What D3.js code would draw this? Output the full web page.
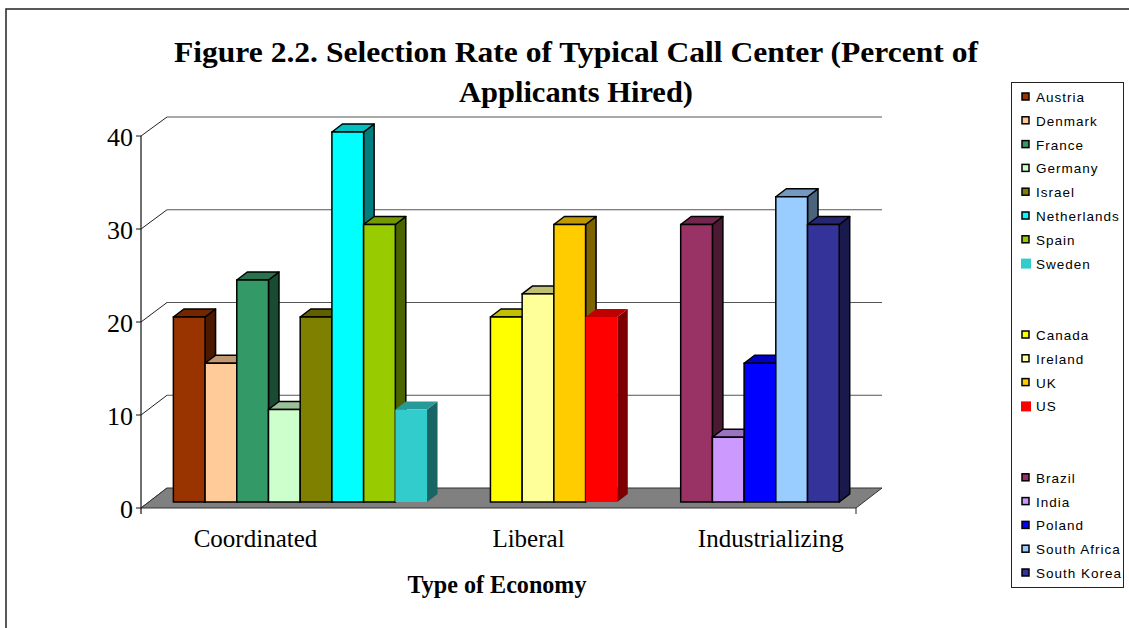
<!DOCTYPE html>
<head>
    <meta charset="utf-8">
    <title>Selection Rate</title>
    <script src="https://d3js.org/d3.v7.min.js"></script>
    <style>
        body { margin: 0; background: #fff; }
        svg { display: block; }
    </style>
</head>
<body>
<div id="container"></div>
<script>
    //-----------------------------DATA------------------------------//
    const categories = ["Coordinated", "Liberal", "Industrializing"];
    const coordinated = ["Austria", "Denmark", "France", "Germany", "Israel", "Netherlands", "Spain", "Sweden"];
    const coordinatedRates = [20, 15, 24, 10, 20, 40, 30, 10];
    const liberal = ["Canada", "Ireland", "UK", "US"];
    const liberalRates = [20, 22.5, 30, 20];
    const industrializing = ["Brazil", "India", "Poland", "South Africa", "South Korea"];
    const industrializingRates = [30, 7, 15, 33, 30];
    const yTicks = [0, 10, 20, 30, 40];

    // palette (styles kept apart from data)
    const palette = {
        "Austria": "#993300", "Denmark": "#FFCC99", "France": "#339966", "Germany": "#CCFFCC",
        "Israel": "#808000", "Netherlands": "#00FFFF", "Spain": "#99CC00", "Sweden": "#33CCCC",
        "Canada": "#FFFF00", "Ireland": "#FFFF99", "UK": "#FFCC00", "US": "#FF0000",
        "Brazil": "#993366", "India": "#CC99FF", "Poland": "#0000FF", "South Africa": "#99CCFF",
        "South Korea": "#333399"
    };
    const noBorder = ["Sweden", "US"];

    //---------------------------LAYOUT------------------------------//
    const width = 1129, height = 628;
    const groups = [
        {name: categories[0], names: coordinated, rates: coordinatedRates},
        {name: categories[1], names: liberal, rates: liberalRates},
        {name: categories[2], names: industrializing, rates: industrializingRates}
    ];
    const labelShift = [2.59, 1.2, 2.84];   // label centre, in bar steps from group start
    const gapSlots = 2;

    // slots: each bar one slot, two empty slots between groups
    const slots = [];
    const bars = [];
    groups.forEach(function(g, gi) {
        g.names.forEach(function(n, i) {
            slots.push(n);
            bars.push({group: gi, name: n, value: g.rates[i]});
        });
        if (gi < groups.length - 1) {
            for (let k = 0; k < gapSlots; k++) slots.push("gap" + gi + "_" + k);
        }
    });

    const frontLeft = 141, frontRight = 856, floorFront = 508;
    const depthX = 26, depthY = -20;      // floor depth
    const barDx = 10.5, barDy = -8;       // bar depth
    const barBase = 502;

    const x = d3.scaleBand()
        .domain(slots)
        .range([frontLeft + 7.8, frontRight + 7.8])
        .paddingInner(0)
        .paddingOuter(0.775);

    const yFront = d3.scaleLinear().domain([0, 40]).range([floorFront, 136]);
    const yBack = d3.scaleLinear().domain([0, 40]).range([floorFront + depthY, 117]);
    const yBar = d3.scaleLinear().domain([0, 40]).range([barBase, 132]);

    const svg = d3.select("#container").append("svg")
        .attr("width", width)
        .attr("height", height);

    // outer border
    svg.append("rect")
        .attr("x", 6).attr("y", 9)
        .attr("width", 1300).attr("height", 800)
        .attr("fill", "none")
        .attr("stroke", "#222")
        .attr("stroke-width", 1.5);

    //-----------------------------TITLE-----------------------------//
    const titleLines = ["Figure 2.2. Selection Rate of Typical Call Center (Percent of", "Applicants Hired)"];
    const titleLen = [804, 234];
    svg.selectAll(".title")
        .data(titleLines)
        .enter().append("text")
        .attr("class", "title")
        .attr("x", 576)
        .attr("y", function(d, i) { return 62 + i * 40; })
        .attr("text-anchor", "middle")
        .attr("textLength", function(d, i) { return titleLen[i]; })
        .attr("lengthAdjust", "spacingAndGlyphs")
        .style("font-family", "'Liberation Serif', 'Times New Roman', serif")
        .style("font-weight", "bold")
        .style("font-size", "30px")
        .text(function(d) { return d; });

    //------------------------WALLS & FLOOR--------------------------//
    const grid = svg.append("g");
    yTicks.filter(function(t) { return t > 0; }).forEach(function(t) {
        grid.append("line")
            .attr("x1", frontLeft + depthX).attr("x2", frontRight + depthX)
            .attr("y1", yBack(t)).attr("y2", yBack(t))
            .attr("stroke", "#555").attr("stroke-width", 1);
    });
    yTicks.forEach(function(t) {
        grid.append("line")
            .attr("x1", frontLeft).attr("x2", frontLeft + depthX)
            .attr("y1", yFront(t)).attr("y2", yBack(t))
            .attr("stroke", "#222").attr("stroke-width", 1);
    });

    svg.append("polygon")
        .attr("points", [
            [frontLeft, floorFront],
            [frontLeft + depthX, floorFront + depthY],
            [frontRight + depthX, floorFront + depthY],
            [frontRight, floorFront]
        ].map(function(p) { return p.join(","); }).join(" "))
        .attr("fill", "#808080")
        .attr("stroke", "#333")
        .attr("stroke-width", 1);

    // right end tick
    svg.append("line")
        .attr("x1", frontRight).attr("x2", frontRight)
        .attr("y1", floorFront).attr("y2", floorFront + 6)
        .attr("stroke", "#222");

    //-----------------------------AXES------------------------------//
    svg.append("line")
        .attr("x1", frontLeft).attr("x2", frontLeft)
        .attr("y1", yFront(40)).attr("y2", floorFront + 6)
        .attr("stroke", "#111").attr("stroke-width", 1.2);

    const yAxis = svg.append("g");
    yAxis.selectAll(".tick")
        .data(yTicks)
        .enter().append("line")
        .attr("x1", frontLeft - 5).attr("x2", frontLeft)
        .attr("y1", function(d) { return yFront(d); })
        .attr("y2", function(d) { return yFront(d); })
        .attr("stroke", "#111");
    yAxis.selectAll(".lbl")
        .data(yTicks)
        .enter().append("text")
        .attr("x", frontLeft - 8)
        .attr("y", function(d) { return yFront(d) + 10; })
        .attr("text-anchor", "end")
        .style("font-family", "'Liberation Serif', 'Times New Roman', serif")
        .style("font-size", "26px")
        .text(function(d) { return d; });

    svg.selectAll(".cat")
        .data(groups)
        .enter().append("text")
        .attr("x", function(d, i) { return x(d.names[0]) + labelShift[i] * x.step(); })
        .attr("y", 547)
        .attr("text-anchor", "middle")
        .style("font-family", "'Liberation Serif', 'Times New Roman', serif")
        .style("font-size", "25px")
        .text(function(d) { return d.name; });

    svg.append("text")
        .attr("x", 497)
        .attr("y", 593)
        .attr("text-anchor", "middle")
        .attr("textLength", 179)
        .attr("lengthAdjust", "spacingAndGlyphs")
        .style("font-family", "'Liberation Serif', 'Times New Roman', serif")
        .style("font-weight", "bold")
        .style("font-size", "25px")
        .text("Type of Economy");

    //-----------------------------BARS------------------------------//
    function pts(a) { return a.map(function(p) { return p.join(","); }).join(" "); }

    const barG = svg.selectAll(".bar")
        .data(bars)
        .enter().append("g")
        .attr("class", "bar");

    barG.each(function(d) {
        const g = d3.select(this);
        const x0 = x(d.name), x1 = x0 + x.bandwidth();
        const yt = yBar(d.value), yb = barBase;
        const c = d3.color(palette[d.name]);
        const border = noBorder.indexOf(d.name) < 0;
        const stroke = border ? "#000" : "none";
        // side
        g.append("polygon")
            .attr("points", pts([[x1, yt], [x1 + barDx, yt + barDy], [x1 + barDx, yb + barDy], [x1, yb]]))
            .attr("fill", c.darker(2.0))
            .attr("stroke", stroke).attr("stroke-width", 1.5).attr("stroke-linejoin", "round");
        // top
        g.append("polygon")
            .attr("points", pts([[x0, yt], [x0 + barDx, yt + barDy], [x1 + barDx, yt + barDy], [x1, yt]]))
            .attr("fill", c.darker(0.8))
            .attr("stroke", stroke).attr("stroke-width", 1.5).attr("stroke-linejoin", "round");
        // front
        g.append("rect")
            .attr("x", x0).attr("y", yt)
            .attr("width", x.bandwidth()).attr("height", yb - yt)
            .attr("fill", c)
            .attr("stroke", stroke).attr("stroke-width", 1.5);
    });

    //----------------------------LEGEND-----------------------------//
    const legendRows = [];
    groups.forEach(function(g, gi) {
        g.names.forEach(function(n) { legendRows.push(n); });
        if (gi < groups.length - 1) { legendRows.push(null); legendRows.push(null); }
    });

    svg.append("rect")
        .attr("x", 1011.5).attr("y", 82.5)
        .attr("width", 112).attr("height", 505)
        .attr("fill", "#fff")
        .attr("stroke", "#222").attr("stroke-width", 1);

    const legend = svg.selectAll(".leg")
        .data(legendRows)
        .enter().append("g")
        .attr("transform", function(d, i) { return "translate(1021," + (97 + i * 23.8) + ")"; })
        .filter(function(d) { return d !== null; });

    legend.append("rect")
        .attr("x", function(d) { return noBorder.indexOf(d) < 0 ? 1 : 0; })
        .attr("y", function(d) { return noBorder.indexOf(d) < 0 ? -4 : -5; })
        .attr("width", function(d) { return noBorder.indexOf(d) < 0 ? 7 : 10; })
        .attr("height", function(d) { return noBorder.indexOf(d) < 0 ? 7 : 10; })
        .attr("fill", function(d) { return palette[d]; })
        .attr("stroke", function(d) { return noBorder.indexOf(d) < 0 ? "#000" : "none"; })
        .attr("stroke-width", 1.5);

    legend.append("text")
        .attr("x", 15)
        .attr("y", 5)
        .style("font-family", "'Liberation Sans', Arial, sans-serif")
        .style("font-size", "13.5px")
        .style("letter-spacing", "1px")
        .text(function(d) { return d; });
</script>
</body>
